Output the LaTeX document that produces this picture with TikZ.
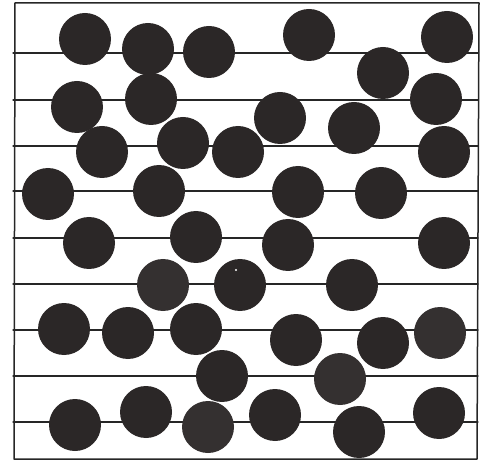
\documentclass[tikz,border=0pt]{standalone}
\definecolor{balldark}{HTML}{2B2727}
\definecolor{ballgrain}{HTML}{343030}
\tikzset{
  ball/.style={fill=balldark},
  grainball/.style={fill=ballgrain},
}
\begin{document}
\begin{tikzpicture}[x=1pt,y=-1pt,line cap=round,line join=round]
  \useasboundingbox (0,0) rectangle (487,462);
  \draw[line width=1.5pt,black!85] (15,3) -- (479,3) -- (477,459) -- (14,459) -- cycle;
  \foreach \yy in {53,100,146,191,238,284,330,376,422}
    \draw[line width=1.1pt,black!85] (13,\yy) -- (478,\yy);
  \foreach \cx/\cy in {85/39,148/49,209/52,309/35,447/37,383/73,77/107,151/99,
      436/99,280/118,354/128,102/152,183/143,238/152,444/152,48/194,159/191,
      298/192,381/193,89/243,196/237,288/245,444/243,240/285,352/285,64/329,
      128/333,196/329,296/340,383/343,222/376,75/425,146/412,275/415,359/432,
      439/413}
    \fill[ball] (\cx,\cy) circle (26);
  \foreach \cx/\cy in {163/285,440/333,340/379,208/427}
    \fill[grainball] (\cx,\cy) circle (26);
  \fill[white] (236,270) circle (1.2);
\end{tikzpicture}
\end{document}
